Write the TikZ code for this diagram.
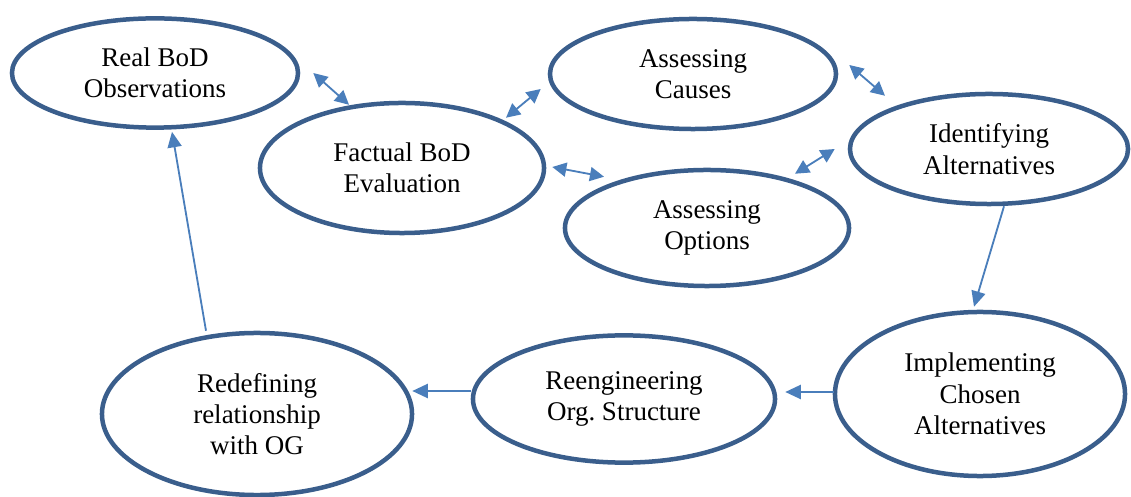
\documentclass[tikz,border=0pt]{standalone}
\usepackage{fontspec}
\setmainfont{Liberation Serif}
\usepackage{tikz}
\usetikzlibrary{shapes.geometric,arrows.meta}
\definecolor{rimblue}{HTML}{3A5E8C}
\definecolor{linkblue}{HTML}{4A7EBB}
\tikzstyle{stage}=[ellipse,draw=rimblue,line width=3.2pt,align=center,
               inner sep=0pt,text=black,font=\fontsize{19.2}{22.3}\selectfont]
\tikzstyle{link}=[draw=linkblue,line width=1.3pt,
               -{Triangle[length=11pt,width=10pt]}]
\tikzstyle{twoway}=[draw=linkblue,line width=1.3pt,
               {Triangle[length=10pt,width=10pt]}-{Triangle[length=10pt,width=10pt]}]

\begin{document}
\begin{tikzpicture}[x=0.025cm,y=-0.025cm]
\useasboundingbox (0,0) rectangle (1131,497);
% the stages
\node [stage,minimum width=7.15cm,minimum height=2.73cm] (real) at (155,73)
  {Real BoD\\Observations};
\node [stage,minimum width=7.1cm,minimum height=3.25cm] (fact) at (402,168)
  {Factual BoD\\Evaluation};
\node [stage,minimum width=7.15cm,minimum height=2.75cm] (causes) at (693,74)
  {Assessing\\Causes};
\node [stage,minimum width=6.95cm,minimum height=2.75cm] (ident) at (989,149)
  {Identifying\\Alternatives};
\node [stage,minimum width=7.1cm,minimum height=2.9cm] (options) at (707,228)
  {Assessing\\Options};
\node [stage,minimum width=7.25cm,minimum height=4.1cm] (impl) at (980,394)
  {Implementing\\Chosen\\Alternatives};
\node [stage,minimum width=7.55cm,minimum height=3.18cm] (reeng) at (624,399)
  {Reengineering\\Org.\ Structure};
\node [stage,minimum width=7.75cm,minimum height=4.05cm] (redef) at (257,414)
  {Redefining\\relationship\\with OG};
% two way links
\draw [twoway] ([shift={(13,0)}]real.east) -- ([shift={(-53,4)}]fact.north);
\draw [twoway] ([shift={(104,17)}]fact.north) -- ([shift={(-7,15)}]causes.west);
\draw [twoway] ([shift={(6,-1)}]fact.east) -- ([shift={(-103,9)}]options.north);
\draw [twoway] ([shift={(88,6)}]options.north) -- ([shift={(-13,0)}]ident.west);
\draw [twoway] ([shift={(11,-9)}]causes.east) -- ([shift={(-104,4)}]ident.north);
% one way links
\draw [link] ([shift={(15,0)}]ident.south) -- ([shift={(-6,-3)}]impl.north);
\draw [link] ([shift={(1,-2)}]impl.west) -- ([shift={(8,-7)}]reeng.east);
\draw [link] ([shift={(0,-8)}]reeng.west) -- ([shift={(-2,-23)}]redef.east);
\draw [link] ([shift={(-51,0)}]redef.north) -- ([shift={(17,2)}]real.south);
\end{tikzpicture}
\end{document}
